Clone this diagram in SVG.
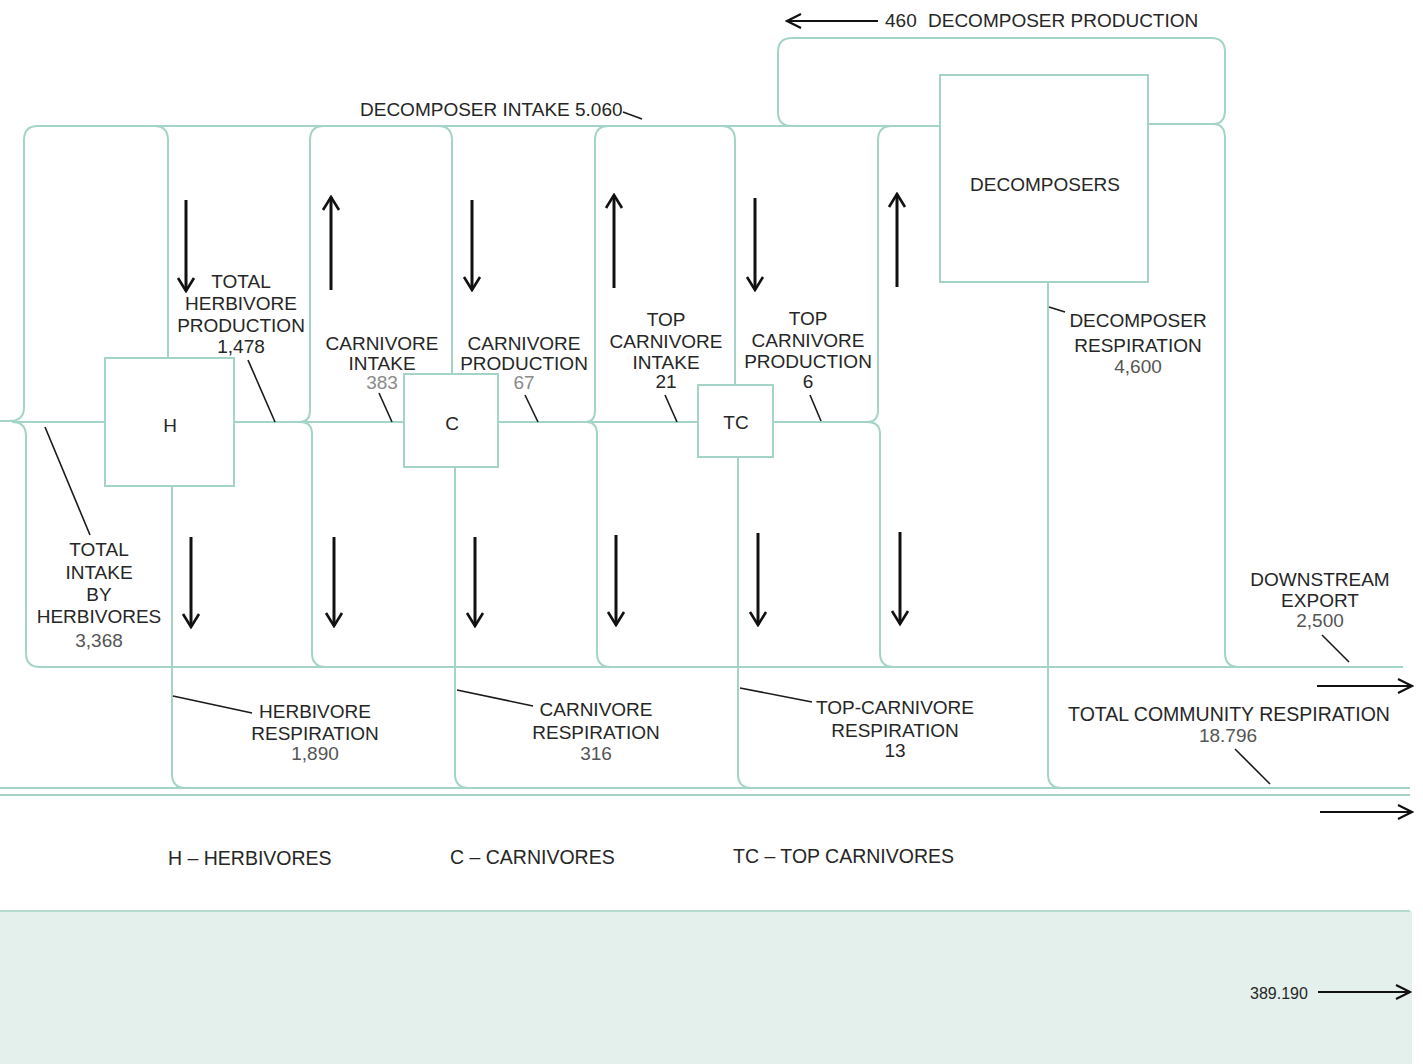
<svg xmlns="http://www.w3.org/2000/svg" width="1423" height="1064" viewBox="0 0 1423 1064">
  <style>
    .flow { fill: none; stroke: #a4d4c8; stroke-width: 2; }
    .node { fill: #ffffff; stroke: #a4d4c8; stroke-width: 2; }
    .tick { stroke: #1a1a1a; stroke-width: 1.6; fill: none; }
    .arr { stroke: #111; stroke-width: 3; fill: none; marker-end: url(#ah); }
    .arr2 { stroke: #111; stroke-width: 2.2; fill: none; marker-end: url(#ah2); }
    text { font-family: "Liberation Sans", Arial, sans-serif; font-size: 19px; fill: #262626; }
    .c { text-anchor: middle; }
    .g1 { fill: #8a8a8a; }
    .g2 { fill: #555; }
  </style>
  <defs>
    <marker id="ah" viewBox="-15 -10 17 20" refX="0" refY="0" markerWidth="17" markerHeight="20" markerUnits="userSpaceOnUse" orient="auto">
      <path d="M-13,-8 L0,0 L-13,8" fill="none" stroke="#111" stroke-width="2.6"/>
    </marker>
    <marker id="ah2" viewBox="-16 -9 18 18" refX="0" refY="0" markerWidth="18" markerHeight="18" markerUnits="userSpaceOnUse" orient="auto">
      <path d="M-14,-7 L0,0 L-14,7" fill="none" stroke="#111" stroke-width="2.2"/>
    </marker>
  </defs>

  <rect width="1423" height="1064" fill="#ffffff"/>

  <!-- shaded band at the foot -->
  <rect x="0" y="911" width="1412" height="153" fill="#e3f0eb"/>
  <line x1="0" y1="911" x2="1410" y2="911" stroke="#b6dbd0" stroke-width="2"/>

  <g id="connectors">
    <!-- decomposer intake collector and left input fork -->
    <path class="flow" d="M0 421 L10 421 Q24 421 24 407 L24 140 Q24 126 38 126 L940 126"/>
    <path class="flow" d="M12 422 Q26 422 26 436 L26 653 Q26 667 40 667 L1403 667"/>
    <path class="flow" d="M12 422 L105 422"/>
    <path class="flow" d="M154 126 Q168 126 168 140 L168 358"/>

    <!-- herbivore output fork -->
    <path class="flow" d="M234 422 L404 422"/>
    <path class="flow" d="M300 422 Q310 422 310 410 L310 140 Q310 126 324 126"/>
    <path class="flow" d="M300 422 Q312 422 312 434 L312 653 Q312 667 326 667"/>
    <path class="flow" d="M438 126 Q452 126 452 140 L452 374"/>

    <!-- carnivore output fork -->
    <path class="flow" d="M498 422 L698 422"/>
    <path class="flow" d="M586 422 Q595 422 595 410 L595 140 Q595 126 609 126"/>
    <path class="flow" d="M586 422 Q597 422 597 434 L597 653 Q597 667 611 667"/>
    <path class="flow" d="M721 126 Q735 126 735 140 L735 385"/>

    <!-- top carnivore output fork -->
    <path class="flow" d="M773 422 L867 422"/>
    <path class="flow" d="M867 422 Q878 422 878 410 L878 140 Q878 126 892 126"/>
    <path class="flow" d="M867 422 Q880 422 880 434 L880 653 Q880 667 894 667"/>

    <!-- decomposer production loop and export line -->
    <path class="flow" d="M792 126 Q778 126 778 112 L778 52 Q778 38 792 38 L1211 38 Q1225 38 1225 52 L1225 110 Q1225 124 1213 124"/>
    <path class="flow" d="M1148 124 L1213 124 Q1225 124 1225 138 L1225 653 Q1225 667 1239 667"/>

    <!-- respiration drains -->
    <path class="flow" d="M172 486 L172 774 Q172 788 186 788"/>
    <path class="flow" d="M455 467 L455 774 Q455 788 469 788"/>
    <path class="flow" d="M738 457 L738 774 Q738 788 752 788"/>
    <path class="flow" d="M1048 282 L1048 774 Q1048 788 1062 788"/>
    <path class="flow" d="M0 788 L1410 788"/>
    <path class="flow" d="M0 795 L1410 795"/>

    <!-- flow direction arrows -->
    <line class="arr" x1="186" y1="200" x2="186" y2="291"/>
    <line class="arr" x1="331" y1="290" x2="331" y2="197"/>
    <line class="arr" x1="472" y1="200" x2="472" y2="290"/>
    <line class="arr" x1="614" y1="288" x2="614" y2="195"/>
    <line class="arr" x1="755" y1="198" x2="755" y2="290"/>
    <line class="arr" x1="897" y1="287" x2="897" y2="194"/>
    <line class="arr" x1="191" y1="537" x2="191" y2="627"/>
    <line class="arr" x1="334" y1="537" x2="334" y2="626"/>
    <line class="arr" x1="475" y1="537" x2="475" y2="626"/>
    <line class="arr" x1="616" y1="535" x2="616" y2="625"/>
    <line class="arr" x1="758" y1="533" x2="758" y2="625"/>
    <line class="arr" x1="900" y1="532" x2="900" y2="624"/>
    <line class="arr2" x1="878" y1="21" x2="787" y2="21"/>
    <line class="arr2" x1="1317" y1="686" x2="1412" y2="686"/>
    <line class="arr2" x1="1320" y1="812" x2="1412" y2="812"/>
    <line class="arr2" x1="1318" y1="992" x2="1410" y2="992"/>

    <!-- label leaders -->
    <line class="tick" x1="623" y1="112" x2="642" y2="119"/>
    <line class="tick" x1="45" y1="427" x2="90" y2="535"/>
    <line class="tick" x1="248" y1="360" x2="275" y2="422"/>
    <line class="tick" x1="379" y1="393" x2="392" y2="422"/>
    <line class="tick" x1="525" y1="395" x2="538" y2="422"/>
    <line class="tick" x1="665" y1="395" x2="677" y2="422"/>
    <line class="tick" x1="810" y1="395" x2="821" y2="421"/>
    <line class="tick" x1="1049" y1="307" x2="1065" y2="312"/>
    <line class="tick" x1="173" y1="696" x2="252" y2="713"/>
    <line class="tick" x1="457" y1="690" x2="533" y2="706"/>
    <line class="tick" x1="740" y1="688" x2="812" y2="702"/>
    <line class="tick" x1="1235" y1="749" x2="1270" y2="784"/>
    <line class="tick" x1="1322" y1="635" x2="1349" y2="662"/>
  </g>

  <g id="node-h">
    <rect class="node" x="105" y="358" width="129" height="128"/>
    <text class="c" x="170" y="432">H</text>
  </g>
  <g id="node-c">
    <rect class="node" x="404" y="374" width="94" height="93"/>
    <text class="c" x="452" y="430">C</text>
  </g>
  <g id="node-tc">
    <rect class="node" x="698" y="385" width="75" height="72"/>
    <text class="c" x="736" y="429">TC</text>
  </g>
  <g id="node-decomposers">
    <rect class="node" x="940" y="75" width="208" height="207"/>
    <text class="c" x="1045" y="191">DECOMPOSERS</text>
  </g>

  <g id="labels">
    <text x="885" y="27">460</text>
    <text x="928" y="27">DECOMPOSER PRODUCTION</text>
    <text x="360" y="116">DECOMPOSER INTAKE 5.060</text>

    <text class="c" x="241" y="288">TOTAL</text>
    <text class="c" x="241" y="310">HERBIVORE</text>
    <text class="c" x="241" y="332">PRODUCTION</text>
    <text class="c" x="241" y="353">1,478</text>

    <text class="c" x="382" y="350">CARNIVORE</text>
    <text class="c" x="382" y="370">INTAKE</text>
    <text class="c g1" x="382" y="389">383</text>

    <text class="c" x="524" y="350">CARNIVORE</text>
    <text class="c" x="524" y="370">PRODUCTION</text>
    <text class="c g1" x="524" y="389">67</text>

    <text class="c" x="666" y="326">TOP</text>
    <text class="c" x="666" y="348">CARNIVORE</text>
    <text class="c" x="666" y="369">INTAKE</text>
    <text class="c" x="666" y="388">21</text>

    <text class="c" x="808" y="325">TOP</text>
    <text class="c" x="808" y="347">CARNIVORE</text>
    <text class="c" x="808" y="368">PRODUCTION</text>
    <text class="c" x="808" y="388">6</text>

    <text class="c" x="1138" y="327">DECOMPOSER</text>
    <text class="c" x="1138" y="352">RESPIRATION</text>
    <text class="c g2" x="1138" y="373">4,600</text>

    <text class="c" x="99" y="556">TOTAL</text>
    <text class="c" x="99" y="579">INTAKE</text>
    <text class="c" x="99" y="601">BY</text>
    <text class="c" x="99" y="623">HERBIVORES</text>
    <text class="c g2" x="99" y="647">3,368</text>

    <text class="c" x="1320" y="586">DOWNSTREAM</text>
    <text class="c" x="1320" y="607">EXPORT</text>
    <text class="c g2" x="1320" y="627">2,500</text>

    <text class="c" x="315" y="718">HERBIVORE</text>
    <text class="c" x="315" y="740">RESPIRATION</text>
    <text class="c g2" x="315" y="760">1,890</text>

    <text class="c" x="596" y="716">CARNIVORE</text>
    <text class="c" x="596" y="739">RESPIRATION</text>
    <text class="c g2" x="596" y="760">316</text>

    <text class="c" x="895" y="714">TOP-CARNIVORE</text>
    <text class="c" x="895" y="737">RESPIRATION</text>
    <text class="c" x="895" y="757">13</text>

    <text class="c" x="1229" y="721" style="font-size:19.5px">TOTAL COMMUNITY RESPIRATION</text>
    <text class="c g2" x="1228" y="742">18.796</text>

    <text x="168" y="865" style="font-size:19.5px">H – HERBIVORES</text>
    <text x="450" y="864" style="font-size:19.5px">C – CARNIVORES</text>
    <text x="733" y="863" style="font-size:19.5px">TC – TOP CARNIVORES</text>

    <text x="1250" y="999" style="font-size:16px">389.190</text>
  </g>
</svg>
